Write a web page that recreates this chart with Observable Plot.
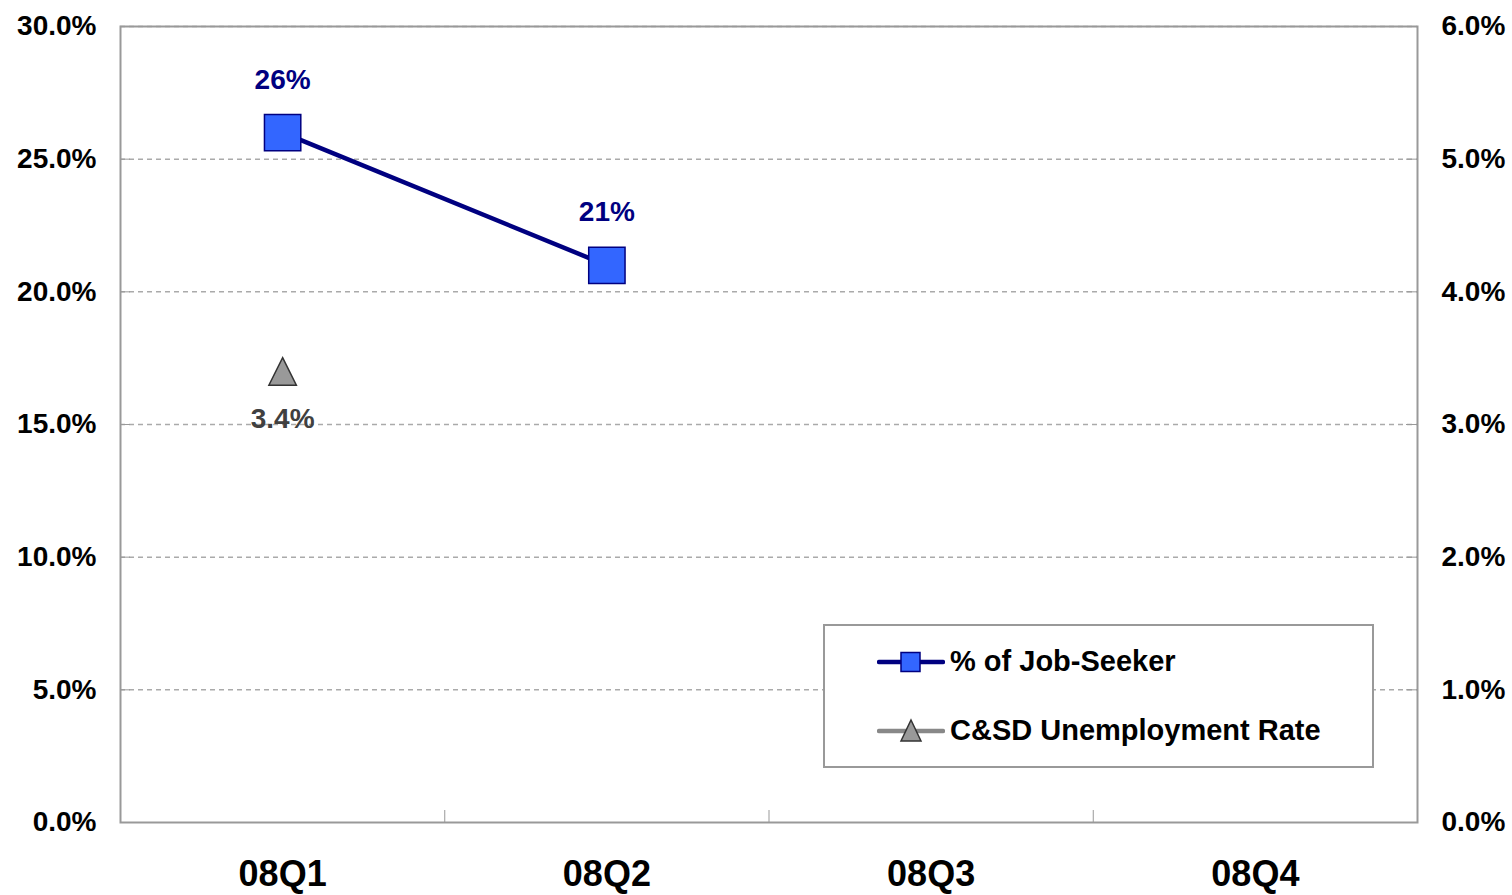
<!DOCTYPE html>
<html><head><meta charset="utf-8">
<script src="https://cdn.jsdelivr.net/npm/d3@7"></script>
<script src="https://cdn.jsdelivr.net/npm/@observablehq/plot@0.6"></script>
<style>
body{margin:0;background:#fff;font-family:"Liberation Sans",Arial,sans-serif;}
#wrap{position:relative;width:1512px;height:895px;}
#legend{position:absolute;left:823px;top:624px;width:547px;height:140px;border:2px solid #999;background:#fff;box-sizing:content-box;}
.row{position:absolute;left:52px;display:flex;align-items:center;font-size:29px;font-weight:bold;color:#000;white-space:nowrap;}
.row svg{margin-right:5px;}
</style></head>
<body><div id="wrap"></div>
<script>
const quarters = ["08Q1", "08Q2", "08Q3", "08Q4"];
const jobSeeker = [26, 21, null, null];          // % of Job-Seeker (left axis)
const unemployment = [3.4, null, null, null];    // C&SD Unemployment Rate (right axis)
const leftTicks = [0, 5, 10, 15, 20, 25, 30];
const rightTicks = [0, 1, 2, 3, 4, 5, 6];
const seriesNames = ["% of Job-Seeker", "C&SD Unemployment Rate"];
const ratio = 30 / 6; // left-axis units per right-axis unit

const jobRows = quarters.map((q, i) => ({i, q, v: jobSeeker[i]})).filter(d => d.v != null);
const unRows = quarters.map((q, i) => ({i, q, v: unemployment[i]})).filter(d => d.v != null);
const cx = d => d.i + 0.5;

// isoceles triangle symbol, as wide as tall, centred on its bounding box
const tallTriangle = {
  draw(context, size) {
    const h = Math.sqrt(size) / 2;
    context.moveTo(0, -h);
    context.lineTo(h, h);
    context.lineTo(-h, h);
    context.closePath();
  }
};

const chart = Plot.plot({
  width: 1512, height: 895,
  marginLeft: 120, marginRight: 95, marginTop: 26, marginBottom: 73,
  style: {fontFamily: "'Liberation Sans', Arial, sans-serif", color: "#000", background: "#fff"},
  x: {type: "linear", domain: [0, quarters.length], label: null},
  y: {domain: [0, 30], label: null},
  marks: [
    Plot.gridY(leftTicks.slice(1), {stroke: "#aaa", strokeOpacity: 1, strokeWidth: 1.5, strokeDasharray: "5,4"}),
    Plot.frame({stroke: "#999", strokeWidth: 2}),
    Plot.axisY(leftTicks, {anchor: "left", label: null, tickSize: -10, tickPadding: 34, stroke: "#999", fill: "#000",
      tickFormat: d => d.toFixed(1) + "%", fontSize: 28, fontWeight: "bold"}),
    Plot.axisY(rightTicks.map(d => d * ratio), {anchor: "right", label: null, tickSize: -12, tickPadding: 36, stroke: "#999", fill: "#000",
      tickFormat: d => (d / ratio).toFixed(1) + "%", fontSize: 28, fontWeight: "bold"}),
    Plot.axisX(quarters.map((q, i) => i + 0.5), {anchor: "bottom", label: null, tickSize: 0, tickPadding: 38, fill: "#000",
      tickFormat: d => quarters[Math.floor(d)], fontSize: 36, fontWeight: "bold"}),
    Plot.axisX(d3.range(1, quarters.length), {anchor: "bottom", label: null, tickSize: -12, stroke: "#999", tickFormat: () => ""}),
    Plot.line(jobRows, {x: cx, y: "v", stroke: "#000080", strokeWidth: 4.5}),
    Plot.dot(jobRows, {x: cx, y: "v", symbol: "square", r: 20.5, fill: "#3366ff", stroke: "#000080", strokeWidth: 1.5}),
    Plot.text(jobRows, {x: cx, y: "v", text: d => d.v + "%", dy: -53, fill: "#000080", fontSize: 28, fontWeight: "bold"}),
    Plot.dot(unRows, {x: cx, y: d => d.v * ratio, symbol: tallTriangle, r: 15.5, fill: "#999", stroke: "#333", strokeWidth: 1.5}),
    Plot.text(unRows, {x: cx, y: d => d.v * ratio, text: d => d.v.toFixed(1) + "%", dy: 48, fill: "#404040", fontSize: 28, fontWeight: "bold"})
  ]
});
const wrap = document.getElementById("wrap");
wrap.appendChild(chart);

const legend = document.createElement("div");
legend.id = "legend";
legend.innerHTML = `
<div class="row" style="top:19px">
  <svg width="68" height="30"><line x1="2" y1="15" x2="66" y2="15" stroke="#000080" stroke-width="4.5" stroke-linecap="round"/>
  <rect x="24" y="5.5" width="19" height="19" fill="#3366ff" stroke="#000080" stroke-width="1.5"/></svg>${seriesNames[0]}</div>
<div class="row" style="top:88px">
  <svg width="68" height="30"><line x1="2" y1="15" x2="66" y2="15" stroke="#888" stroke-width="4.5" stroke-linecap="round"/>
  <path d="M34,4 L44,25 L24,25 Z" fill="#999" stroke="#333" stroke-width="1.5"/></svg>${seriesNames[1]}</div>`;
wrap.appendChild(legend);
</script>
</body></html>
